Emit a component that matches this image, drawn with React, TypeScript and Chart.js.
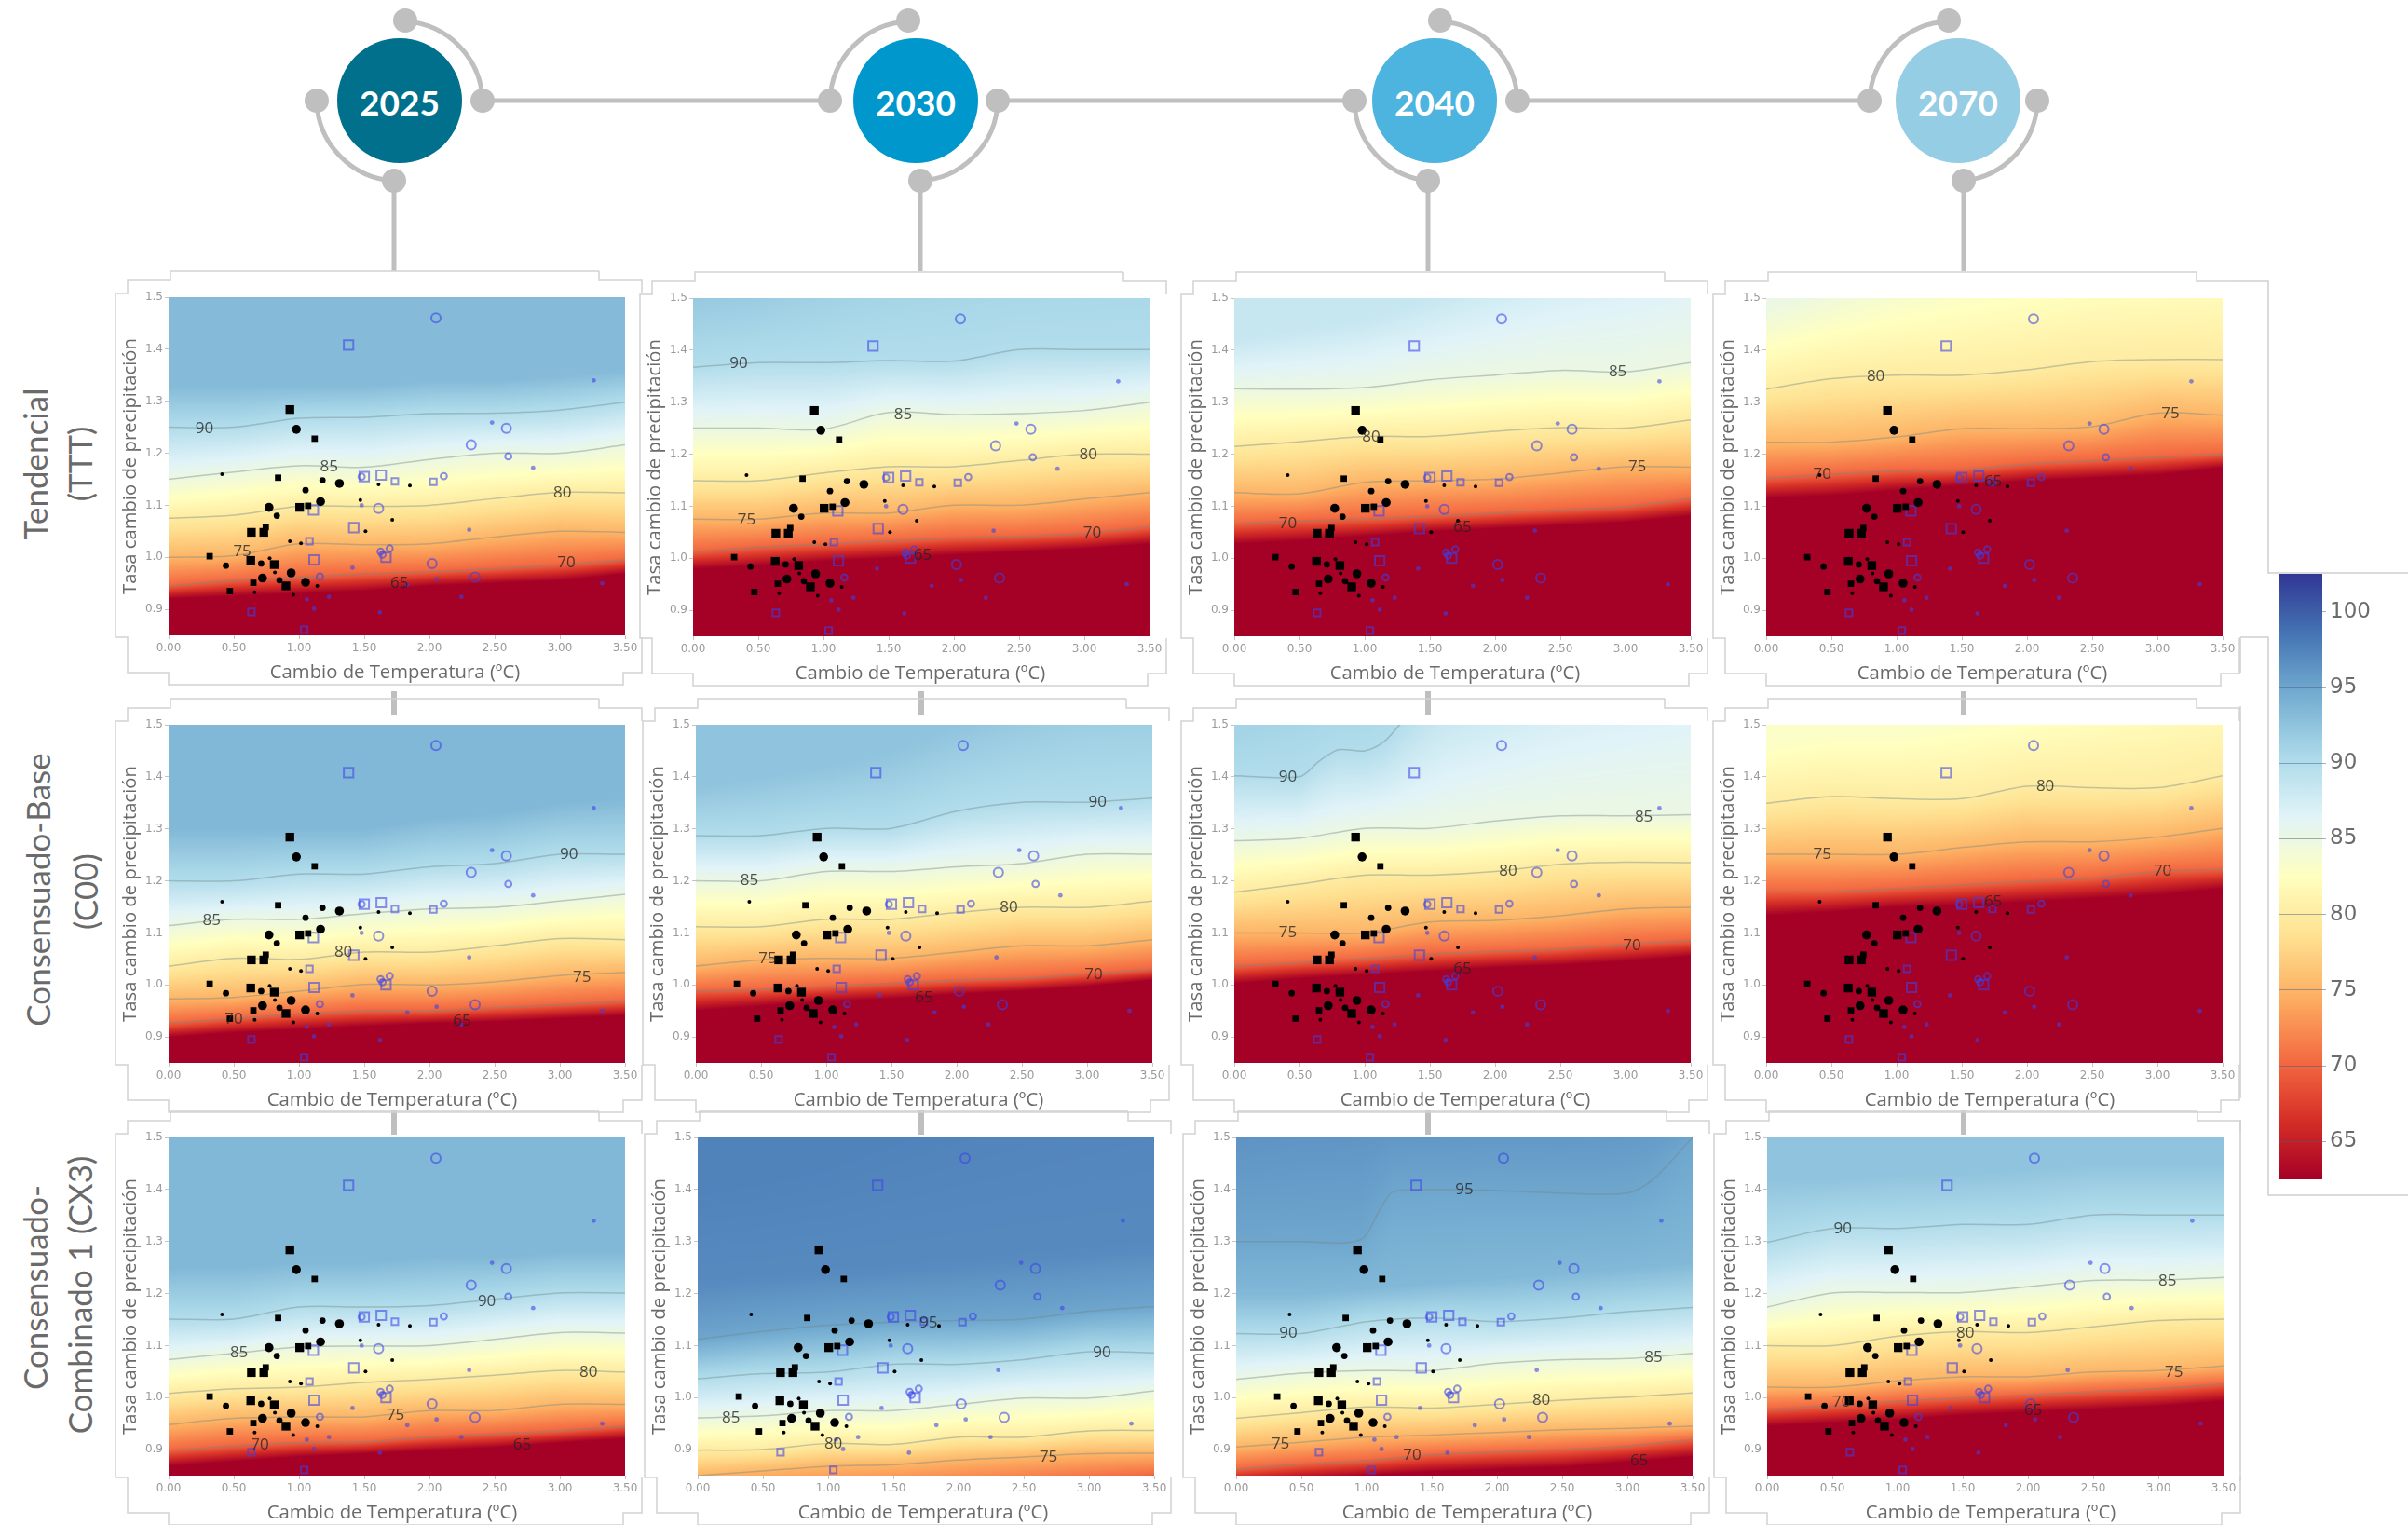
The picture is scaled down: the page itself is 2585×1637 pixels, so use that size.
import React, { useEffect, useRef } from "react";
import { Chart, registerables } from "chart.js";

Chart.register(...registerables);

// ---------- tick labels / axes ----------
const xTicks = [0, 0.5, 1, 1.5, 2, 2.5, 3, 3.5];
const yTicks = [0.9, 1.0, 1.1, 1.2, 1.3, 1.4, 1.5];
const barTicks = [65, 70, 75, 80, 85, 90, 95, 100];
const xTitle = "Cambio de Temperatura (ºC)";
const yTitle = "Tasa cambio de precipitación";
const years = ["2025", "2030", "2040", "2070"];
const yearColors = ["#00708c", "#0098cc", "#4cb4de", "#95cde4"];

// ---------- colour scale ----------
const colorLevels = [62.5, 66.5, 70.5, 74.5, 78.5, 82.5, 86.5, 90.5, 94.5, 98.5, 102.5];
const colorHex = ["#a50026", "#d73027", "#f46d43", "#fdae61", "#fee090", "#ffffbf", "#e0f3f8", "#abd9e9", "#74add1", "#4575b4", "#313695"];

// ---------- observations (same in every panel) ----------
const blackBigSquares = [[.93,1.284],[1.005,1.096],[.635,1.048],[.73,1.048],[.63,.994],[.81,.986],[.9,.945]];
const blackMedSquares = [[1.12,1.228],[.84,1.153],[1.07,1.099],[.745,1.058],[.315,1.002],[.65,.951],[.47,.935]];
const blackBigCircles = [[.98,1.246],[1.31,1.142],[.77,1.096],[1.165,1.107],[.94,.97],[.72,.96],[1.05,.952]];
const blackMedCircles = [[1.18,1.148],[1.05,1.129],[.83,1.08],[.44,.984],[.71,.988],[.85,.956]];
const blackSmallDots = [[.41,1.16],[1.61,1.14],[1.85,1.138],[1.47,1.11],[1.715,1.072],[1.51,1.05],[.93,1.031],[1.015,1.027],[.775,.998],[.815,.971],[1.14,.945],[.66,.933],[.956,.928]];
const blueBigSquares = [[1.38,1.408],[1.63,1.158],[1.5,1.155],[1.11,1.091],[1.42,1.057],[1.667,1.0],[1.115,.995]];
const blueMedSquares = [[2.03,1.145],[1.735,1.146],[1.08,1.031],[.635,.895],[1.04,.861]];
const blueBigCircles = [[2.05,1.46],[2.59,1.248],[2.32,1.216],[1.61,1.094],[2.02,.988],[2.35,.962]];
const blueMedCircles = [[2.605,1.194],[2.11,1.156],[1.48,1.155],[1.695,1.017],[1.625,1.011],[1.64,1.005],[1.16,.963]];
const blueSmallDots = [[3.26,1.34],[2.48,1.259],[2.795,1.172],[1.48,1.1],[2.305,1.053],[1.41,.98],[2.055,.958],[3.325,.95],[1.83,.947],[2.245,.924],[1.23,.924],[1.06,.919],[1.115,.901],[1.62,.894]];

// ---------- contours: [level, y at each of xTicks (or [x,y] pairs)] ----------
const TTT2025 = [
  [65,[.92,.925,.93,.935,.945,.95,.955,.968]],
  [70,[.945,.955,.962,.968,.972,.978,.985,.995]],
  [75,[1.0,1.003,1.026,1.024,1.026,1.039,1.05,1.048]],
  [80,[1.075,1.081,1.098,1.098,1.1,1.113,1.125,1.124]],
  [85,[1.15,1.164,1.176,1.173,1.188,1.2,1.2,1.216]],
  [90,[1.25,1.25,1.267,1.269,1.276,1.277,1.283,1.298]],
];
const TTT2030 = [
  [65,[.979,.985,.994,1.0,1.006,1.012,1.018,1.027]],
  [70,[1.012,1.021,1.027,1.033,1.039,1.042,1.048,1.06]],
  [75,[1.075,1.075,1.087,1.087,1.102,1.102,1.114,1.126]],
  [80,[1.149,1.149,1.164,1.176,1.176,1.188,1.2,1.2]],
  [85,[1.25,1.25,1.248,1.28,1.276,1.278,1.284,1.3]],
  [90,[1.367,1.376,1.376,1.38,1.379,1.401,1.401,1.401]],
];
const TTT2040 = [
  [65,[1.027,1.033,1.042,1.051,1.057,1.063,1.069,1.081]],
  [70,[1.066,1.072,1.075,1.081,1.087,1.093,1.099,1.114]],
  [75,[1.126,1.124,1.146,1.149,1.152,1.164,1.176,1.175]],
  [80,[1.215,1.224,1.234,1.234,1.244,1.251,1.25,1.266]],
  [85,[1.326,1.325,1.328,1.343,1.352,1.361,1.358,1.376]],
];
const TTT2070 = [
  [65,[1.115,1.12,1.13,1.139,1.148,1.154,1.16,1.174]],
  [70,[1.154,1.161,1.168,1.17,1.181,1.187,1.194,1.2]],
  [75,[1.223,1.223,1.233,1.249,1.249,1.253,1.279,1.275]],
  [80,[1.325,1.345,1.352,1.352,1.362,1.378,1.382,1.382]],
];
const C002025 = [
  [65,[.899,.908,.914,.92,.926,.929,.935,.941]],
  [70,[.926,.935,.944,.95,.95,.956,.962,.968]],
  [75,[.973,.976,.988,1.001,1.0,1.006,1.018,1.024]],
  [80,[1.036,1.051,1.049,1.063,1.063,1.075,1.089,1.087]],
  [85,[1.114,1.126,1.126,1.137,1.146,1.149,1.161,1.174]],
  [90,[1.2,1.2,1.213,1.213,1.227,1.233,1.251,1.251]],
];
const C002030 = [
  [65,[.95,.959,.968,.973,.982,.988,.997,1.009]],
  [70,[.988,.991,.997,1.003,1.009,1.013,1.021,1.03]],
  [75,[1.036,1.048,1.051,1.051,1.063,1.075,1.075,1.087]],
  [80,[1.112,1.112,1.126,1.126,1.139,1.149,1.149,1.161]],
  [85,[1.2,1.2,1.218,1.218,1.227,1.233,1.251,1.251]],
  [90,[1.287,1.287,1.301,1.301,1.334,1.351,1.351,1.359]],
];
const C002040 = [
  [65,[1.002,1.012,1.019,1.026,1.033,1.038,1.045,1.055]],
  [70,[1.036,1.043,1.05,1.059,1.064,1.069,1.078,1.085]],
  [75,[1.1,1.1,1.1,1.121,1.124,1.133,1.146,1.149]],
  [80,[1.178,1.194,1.211,1.211,1.218,1.232,1.236,1.235]],
  [85,[1.277,1.282,1.301,1.301,1.315,1.325,1.325,1.327]],
  [90,[[0,1.402],[.5,1.4],[.65,1.43],[.8,1.452],[1,1.45],[1.15,1.468],[1.3,1.51],[1.6,1.6],[3.5,1.9]]],
];
const C002070 = [
  [65,[1.133,1.14,1.149,1.153,1.159,1.166,1.172,1.185]],
  [70,[1.179,1.179,1.185,1.192,1.199,1.205,1.218,1.222]],
  [75,[1.251,1.251,1.251,1.264,1.275,1.275,1.284,1.301]],
  [80,[1.349,1.362,1.358,1.358,1.382,1.379,1.379,1.402]],
];
const CX32025 = [
  [65,[.868,.877,.886,.892,.898,.904,.913,.921]],
  [70,[.898,.907,.913,.915,.924,.93,.936,.945]],
  [75,[.948,.96,.963,.963,.975,.975,.987,.987]],
  [80,[1.008,1.017,1.02,1.029,1.035,1.043,1.052,1.049]],
  [85,[1.073,1.085,1.097,1.099,1.1,1.112,1.125,1.124]],
  [90,[1.151,1.151,1.174,1.174,1.177,1.189,1.201,1.201]],
];
const CX32030 = [
  [65,[.7,.71,.72,.73,.74,.75,.76,.78]],
  [70,[.78,.79,.8,.81,.82,.83,.84,.85]],
  [75,[.85,.859,.868,.871,.88,.886,.892,.893]],
  [80,[.899,.9,.912,.91,.924,.924,.936,.937]],
  [85,[.961,.965,.975,.975,.987,.999,.999,1.013]],
  [90,[1.036,1.046,1.049,1.064,1.064,1.073,1.088,1.086]],
  [95,[1.112,1.127,1.139,1.145,1.148,1.151,1.166,1.175]],
];
const CX32040 = [
  [65,[.833,.842,.85,.857,.862,.866,.876,.886]],
  [70,[.862,.872,.879,.89,.895,.9,.907,.919]],
  [75,[.905,.914,.924,.928,.933,.938,.941,.945]],
  [80,[.96,.971,.982,.98,.987,.995,1.001,1.009]],
  [85,[1.035,1.047,1.052,1.052,1.066,1.073,1.075,1.085]],
  [90,[1.123,1.123,1.146,1.153,1.146,1.153,1.165,1.173]],
  [95,[[0,1.3],[.5,1.3],[.95,1.303],[1.1,1.36],[1.2,1.395],[1.5,1.4],[2,1.398],[2.5,1.393],[3,1.393],[3.2,1.42],[3.5,1.5]]],
];
const CX32070 = [
  [65,[.945,.951,.957,.966,.972,.977,.983,.993]],
  [70,[.978,.984,.993,.999,1.005,1.011,1.017,1.026]],
  [75,[1.02,1.02,1.032,1.04,1.04,1.049,1.052,1.061]],
  [80,[1.1,1.1,1.118,1.127,1.125,1.136,1.148,1.151]],
  [85,[1.174,1.201,1.202,1.202,1.213,1.225,1.226,1.231]],
  [90,[1.298,1.325,1.325,1.333,1.333,1.351,1.351,1.351]],
];

// ---------- upper plateau of the colour field, no contour drawn ----------
const shadeTTT2025 = [[93.3,[1.33,1.33,1.33,1.33,1.34,1.34,1.35,1.36]]];
const shadeTTT2030 = [[92,[1.5,1.52,1.58,1.65,1.7,1.72,1.75,1.78]]];
const shadeTTT2040 = [[88.5,[1.42,1.44,1.46,1.5,1.55,1.6,1.65,1.7]]];
const shadeTTT2070 = [[85,[1.48,1.52,1.56,1.6,1.63,1.66,1.68,1.7]]];
const shadeC002025 = [[93.5,[1.3,1.3,1.3,1.3,1.32,1.33,1.35,1.36]]];
const shadeC002030 = [[92.5,[1.38,1.4,1.42,1.45,1.5,1.55,1.6,1.6]]];
const shadeC002040 = [[91,[1.48,1.52,1.56,1.62,1.68,1.75,1.8,1.9]]];
const shadeC002070 = [[83,[1.46,1.48,1.48,1.5,1.52,1.55,1.58,1.62]]];
const shadeCX32025 = [[93.5,[1.25,1.25,1.26,1.26,1.27,1.27,1.28,1.28]]];
const shadeCX32030 = [[97,[1.22,1.23,1.24,1.25,1.26,1.27,1.28,1.29]],[97.5,[1.4,1.42,1.45,1.5,1.55,1.6,1.65,1.7]]];
const shadeCX32040 = [[93.5,[1.2,1.2,1.21,1.22,1.23,1.24,1.25,1.26]],[96.5,[1.52,1.54,1.55,1.55,1.56,1.56,1.58,1.6]]];
const shadeCX32070 = [[92.5,[1.42,1.42,1.43,1.43,1.44,1.45,1.45,1.45]]];

// ---------- contour labels: [text, x, y] ----------
const labelsTTT2025 = [["90",.275,1.248],["85",1.23,1.173],["80",3.02,1.124],["75",.565,1.01],["70",3.05,.99],["65",1.77,.95]];
const labelsTTT2030 = [["90",.35,1.374],["85",1.61,1.276],["80",3.03,1.198],["75",.41,1.074],["70",3.06,1.048],["65",1.76,1.006]];
const labelsTTT2040 = [["85",2.94,1.359],["80",1.05,1.233],["75",3.09,1.175],["70",.41,1.066],["65",1.75,1.059]];
const labelsTTT2070 = [["80",.84,1.35],["75",3.1,1.277],["70",.43,1.161],["65",1.74,1.147]];
const labelsC002025 = [["90",3.07,1.251],["85",.33,1.124],["80",1.34,1.062],["75",3.17,1.015],["70",.5,.933],["65",2.25,.93]];
const labelsC002030 = [["90",3.08,1.351],["85",.41,1.2],["80",2.4,1.148],["75",.55,1.05],["70",3.05,1.019],["65",1.75,.975]];
const labelsC002040 = [["90",.41,1.399],["85",3.14,1.322],["80",2.1,1.218],["75",.41,1.1],["70",3.05,1.075],["65",1.75,1.031]];
const labelsC002070 = [["80",2.14,1.382],["75",.43,1.251],["70",3.04,1.218],["65",1.74,1.159]];
const labelsCX32025 = [["90",2.44,1.185],["85",.54,1.086],["80",3.22,1.049],["75",1.74,.967],["70",.7,.908],["65",2.71,.908]];
const labelsCX32030 = [["95",1.77,1.144],["90",3.1,1.086],["85",.255,.961],["80",1.04,.911],["75",2.69,.886]];
const labelsCX32040 = [["95",1.75,1.4],["90",.4,1.123],["85",3.2,1.077],["80",2.34,.995],["75",.34,.91],["70",1.35,.89],["65",3.09,.879]];
const labelsCX32070 = [["90",.58,1.325],["85",3.07,1.224],["80",1.52,1.124],["75",3.12,1.049],["70",.57,.992],["65",2.04,.975]];

// ---------- layout table ----------
const PAD_L = 60, PAD_T = 32, PAD_R = 28, PAD_B = 60, PLOT_W = 490, PLOT_H = 363;
const panels = [
  { left: 181, top: 319, titleDx: -2, contours: TTT2025, shade: shadeTTT2025, labels: labelsTTT2025 },
  { left: 744, top: 320, titleDx: -1, contours: TTT2030, shade: shadeTTT2030, labels: labelsTTT2030 },
  { left: 1325, top: 320, titleDx: -8, contours: TTT2040, shade: shadeTTT2040, labels: labelsTTT2040 },
  { left: 1896, top: 320, titleDx: -13, openCorner: true, contours: TTT2070, shade: shadeTTT2070, labels: labelsTTT2070 },
  { left: 181, top: 778, titleDx: -5, contours: C002025, shade: shadeC002025, labels: labelsC002025 },
  { left: 747, top: 778, titleDx: -6, contours: C002030, shade: shadeC002030, labels: labelsC002030 },
  { left: 1325, top: 778, titleDx: 3, contours: C002040, shade: shadeC002040, labels: labelsC002040 },
  { left: 1896, top: 778, titleDx: -5, contours: C002070, shade: shadeC002070, labels: labelsC002070 },
  { left: 181, top: 1221, titleDx: -5, contours: CX32025, shade: shadeCX32025, labels: labelsCX32025 },
  { left: 749, top: 1221, titleDx: -3, contours: CX32030, shade: shadeCX32030, labels: labelsCX32030 },
  { left: 1327, top: 1221, titleDx: 3, contours: CX32040, shade: shadeCX32040, labels: labelsCX32040 },
  { left: 1897, top: 1221, titleDx: -5, contours: CX32070, shade: shadeCX32070, labels: labelsCX32070 },
];

// ---------- helpers ----------
const rgbStops = colorHex.map((h) => [parseInt(h.slice(1, 3), 16), parseInt(h.slice(3, 5), 16), parseInt(h.slice(5, 7), 16)]);

function colorFor(v: number) {
  const n = colorLevels.length;
  if (v <= colorLevels[0]) return rgbStops[0];
  if (v >= colorLevels[n - 1]) return rgbStops[n - 1];
  let i = 0;
  while (v > colorLevels[i + 1]) i++;
  const t = (v - colorLevels[i]) / (colorLevels[i + 1] - colorLevels[i]);
  return [0, 1, 2].map((k) => rgbStops[i][k] + (rgbStops[i + 1][k] - rgbStops[i][k]) * t);
}

// the field saturates to the darkest colour at level 65
function fieldColor(v: number) {
  const u = v <= 70.5 ? 62.5 + ((Math.max(v, 65) - 65) / 5.5) * 8 : v;
  return colorFor(u);
}

function toPairs(line: any[]) {
  return Array.isArray(line[0]) ? line : line.map((y: number, i: number) => [xTicks[i], y]);
}

function lineAt(pairs: number[][], x: number) {
  if (x <= pairs[0][0]) return pairs[0][1];
  for (let i = 0; i < pairs.length - 1; i++) {
    if (x <= pairs[i + 1][0]) {
      const t = (x - pairs[i][0]) / (pairs[i + 1][0] - pairs[i][0]);
      return pairs[i][1] + (pairs[i + 1][1] - pairs[i][1]) * t;
    }
  }
  return pairs[pairs.length - 1][1];
}

const asPoints = (list: number[][]) => list.map(([x, y]) => ({ x, y }));

const heatPlugin = {
  id: "heat",
  beforeDatasetsDraw(chart: any, _a: any, opts: any) {
    const { ctx, chartArea: a, scales } = chart;
    const w = Math.round(a.right - a.left), h = Math.round(a.bottom - a.top);
    const img = ctx.createImageData(w, h);
    const levels = [...opts.contours, ...opts.shade]
      .map(([lv, line]: any) => [lv, toPairs(line)])
      .sort((p: any, q: any) => p[0] - q[0]);
    const rowVal: number[] = [];
    for (let r = 0; r < h; r++) rowVal.push(scales.y.getValueForPixel(a.top + r + 0.5));
    for (let c = 0; c < w; c++) {
      const xv = scales.x.getValueForPixel(a.left + c + 0.5);
      const ys = levels.map((l: any) => lineAt(l[1], xv));
      for (let r = 0; r < h; r++) {
        const y = rowVal[r];
        let v = levels[levels.length - 1][0];
        if (y <= ys[0]) v = levels[0][0];
        else {
          for (let i = 0; i < ys.length - 1; i++) {
            if (y < ys[i + 1]) {
              const t = (y - ys[i]) / (ys[i + 1] - ys[i] || 1);
              v = levels[i][0] + (levels[i + 1][0] - levels[i][0]) * t;
              break;
            }
          }
        }
        const col = fieldColor(v);
        const o = (r * w + c) * 4;
        img.data[o] = col[0];
        img.data[o + 1] = col[1];
        img.data[o + 2] = col[2];
        img.data[o + 3] = 255;
      }
    }
    ctx.putImageData(img, a.left, a.top);
  },
  afterDatasetsDraw(chart: any, _a: any, opts: any) {
    const { ctx, scales, chartArea: c } = chart;
    ctx.save();
    ctx.font = "17px 'Open Sans'";
    ctx.textAlign = "center";
    ctx.textBaseline = "middle";
    ctx.fillStyle = "rgba(35,35,35,0.78)";
    for (const [t, x, y] of opts.labels) {
      ctx.fillText(t, scales.x.getPixelForValue(x), scales.y.getPixelForValue(y));
    }
    ctx.font = "20.3px 'Open Sans'";
    ctx.fillStyle = "#6a6a6a";
    ctx.fillText(xTitle, (c.left + c.right) / 2 + opts.titleDx, c.bottom + 40);
    ctx.restore();
  },
  beforeDraw(chart: any, _a: any, opts: any) {
    const { ctx, chartArea: c } = chart;
    const l = c.left, r = c.right, t = c.top, b = c.bottom;
    ctx.save();
    ctx.strokeStyle = "#d2d2d2";
    ctx.lineWidth = 1.5;
    ctx.beginPath();
    ctx.moveTo(r - 28, t - 28);
    ctx.lineTo(l + 2, t - 28);
    ctx.lineTo(l + 2, t - 18);
    ctx.lineTo(l - 44, t - 18);
    ctx.lineTo(l - 44, t - 4);
    ctx.lineTo(l - 57, t - 4);
    ctx.lineTo(l - 57, b + 2);
    ctx.lineTo(l - 44, b + 2);
    ctx.lineTo(l - 44, b + 40);
    ctx.lineTo(l, b + 40);
    ctx.lineTo(l, b + 53);
    ctx.lineTo(r - 2, b + 53);
    ctx.lineTo(r - 2, b + 40);
    ctx.lineTo(r + 18, b + 40);
    ctx.lineTo(r + 18, b + 2);
    ctx.moveTo(r - 28, t - 28);
    ctx.lineTo(r - 28, t - 18);
    ctx.lineTo(r + 18, t - 18);
    if (!opts.openCorner) ctx.lineTo(r + 18, t - 4);
    ctx.stroke();
    ctx.restore();
  },
};

const BLUE = "rgba(60,65,232,0.58)";

function makeDatasets(p: any) {
  const lines = p.contours
    .filter(([lv]: any) => lv > 65)
    .map(([lv, line]: any) => ({
      label: String(lv),
      data: asPoints(toPairs(line)),
      showLine: true,
      borderColor: "rgba(115,135,135,0.42)",
      borderWidth: 1.5,
      tension: 0.3,
      pointRadius: 0,
      order: 10,
    }));
  const solid = (data: number[][], pointStyle: string, pointRadius: number) => ({
    data: asPoints(data), pointStyle, pointRadius, showLine: false,
    backgroundColor: "#000", borderColor: "#000", borderWidth: 0, order: 1,
  });
  const ring = (data: number[][], pointStyle: string, pointRadius: number) => ({
    data: asPoints(data), pointStyle, pointRadius, showLine: false,
    backgroundColor: "rgba(0,0,0,0)", borderColor: BLUE, borderWidth: 2, order: 2,
  });
  return [
    ...lines,
    solid(blackBigSquares, "rect", 6.6),
    solid(blackMedSquares, "rect", 4.8),
    solid(blackBigCircles, "circle", 4.8),
    solid(blackMedCircles, "circle", 3.4),
    solid(blackSmallDots, "circle", 2),
    ring(blueBigSquares, "rect", 7.2),
    ring(blueMedSquares, "rect", 5),
    ring(blueBigCircles, "circle", 5),
    ring(blueMedCircles, "circle", 3.4),
    { data: asPoints(blueSmallDots), pointStyle: "circle", pointRadius: 2.4, showLine: false, backgroundColor: BLUE, borderWidth: 0, order: 2 },
  ];
}

function Panel({ p }: { p: any }) {
  const ref = useRef<HTMLCanvasElement>(null);
  useEffect(() => {
    const chart = new Chart(ref.current as any, {
      type: "scatter",
      data: { datasets: makeDatasets(p) as any },
      plugins: [heatPlugin],
      options: {
        animation: false,
        responsive: false,
        devicePixelRatio: 1,
        layout: { padding: { left: 0, top: PAD_T, right: PAD_R, bottom: 0 } },
        plugins: {
          legend: { display: false },
          tooltip: { enabled: false },
          heat: { contours: p.contours, shade: p.shade, labels: p.labels, titleDx: p.titleDx, openCorner: !!p.openCorner },
        },
        scales: {
          x: {
            type: "linear", min: 0, max: 3.5,
            afterFit: (s: any) => { s.height = PAD_B; },
            afterBuildTicks: (s: any) => { s.ticks = xTicks.map((value) => ({ value })); },
            grid: { drawOnChartArea: false, drawTicks: true, tickLength: 4, color: "#c4c4c4" },
            border: { display: false },
            ticks: { padding: 3, maxRotation: 0, autoSkip: false, color: "#9a9a9a", font: { family: "'DejaVu Sans'", size: 12 }, callback: (v: any) => Number(v).toFixed(2) },
          },
          y: {
            type: "linear", min: 0.85, max: 1.5,
            afterFit: (s: any) => { s.width = PAD_L; },
            afterBuildTicks: (s: any) => { s.ticks = yTicks.map((value) => ({ value })); },
            grid: { drawOnChartArea: false, drawTicks: true, tickLength: 4, color: "#c4c4c4" },
            border: { display: false },
            ticks: { padding: 2, autoSkip: false, color: "#9a9a9a", font: { family: "'DejaVu Sans'", size: 12 }, callback: (v: any) => Number(v).toFixed(1) },
            title: { display: true, text: yTitle, color: "#6a6a6a", font: { family: "'Open Sans'", size: 20.3 }, padding: { top: 7, bottom: 0 } },
          },
        },
      } as any,
    });
    return () => chart.destroy();
  }, []);
  const w = PAD_L + PLOT_W + PAD_R, h = PAD_T + PLOT_H + PAD_B;
  return (
    <canvas ref={ref} width={w} height={h}
      style={{ position: "absolute", left: p.left - PAD_L, top: p.top - PAD_T, width: w, height: h, filter: "blur(0.5px)" }} />
  );
}

function ColorBar() {
  const ref = useRef<HTMLCanvasElement>(null);
  useEffect(() => {
    const chart = new Chart(ref.current as any, {
      type: "bar",
      data: {
        labels: [""],
        datasets: [{
          data: [[colorLevels[0], colorLevels[colorLevels.length - 1]]],
          categoryPercentage: 1,
          barPercentage: 1,
          backgroundColor: (c: any) => {
            const { chartArea, ctx } = c.chart;
            if (!chartArea) return "#888";
            const g = ctx.createLinearGradient(0, chartArea.bottom, 0, chartArea.top);
            const lo = colorLevels[0], hi = colorLevels[colorLevels.length - 1];
            colorLevels.forEach((lv, i) => g.addColorStop((lv - lo) / (hi - lo), colorHex[i]));
            return g;
          },
        }] as any,
      },
      options: {
        animation: false,
        responsive: false,
        devicePixelRatio: 1,
        layout: { padding: { left: 7, top: 26, bottom: 24, right: 0 } },
        plugins: { legend: { display: false }, tooltip: { enabled: false } },
        scales: {
          x: { display: false },
          y: {
            position: "right", min: colorLevels[0], max: colorLevels[colorLevels.length - 1],
            afterFit: (s: any) => { s.width = 92; },
            afterBuildTicks: (s: any) => { s.ticks = barTicks.map((value) => ({ value })); },
            grid: { color: "rgba(70,95,135,0.5)", tickLength: 4, z: 1, lineWidth: 1 },
            border: { display: false },
            ticks: { padding: 4, autoSkip: false, color: "#6b6b6b", font: { family: "'DejaVu Sans'", size: 23 } },
          },
        },
      } as any,
    });
    return () => chart.destroy();
  }, []);
  return <canvas ref={ref} width={145} height={700}
    style={{ position: "absolute", left: 2440, top: 590, width: 145, height: 700, filter: "blur(0.4px)" }} />;
}

const GREY = "#bfbfbf";

function Node({ cx, i, top, right, bottom, left, upperRight }: any) {
  const R = 88;
  const arcs = upperRight
    ? [`M ${top} 23 A ${R} ${R} 0 0 1 ${right} 108`, `M ${left} 108 A ${R} ${R} 0 0 0 ${bottom} 194`]
    : [`M ${top} 23 A ${R} ${R} 0 0 0 ${left} 108`, `M ${right} 108 A ${R} ${R} 0 0 1 ${bottom} 194`];
  return (
    <g>
      {arcs.map((d) => <path key={d} d={d} fill="none" stroke={GREY} strokeWidth={5} />)}
      <line x1={bottom} y1={194} x2={bottom} y2={291} stroke={GREY} strokeWidth={5} />
      <circle cx={top} cy={22} r={13} fill={GREY} />
      <circle cx={right} cy={108} r={13} fill={GREY} />
      <circle cx={left} cy={108} r={13} fill={GREY} />
      <circle cx={bottom} cy={194} r={13} fill={GREY} />
      <circle cx={cx} cy={108} r={67} fill={yearColors[i]} />
      <text x={cx} y={109} fill="#fff" textAnchor="middle" dominantBaseline="central"
        style={{ font: "700 37px Lato" }}>{years[i]}</text>
    </g>
  );
}

function RowText({ x, y, t }: any) {
  return (
    <text transform={`rotate(-90 ${x} ${y})`} x={x} y={y} fill="#6a6a6a" textAnchor="middle" dominantBaseline="central"
      style={{ font: "400 35px Lato" }}>{t}</text>
  );
}

function Overlay() {
  const seg = (d: string) => <path key={d} d={d} fill="none" stroke="#cfcfcf" strokeWidth={1.5} />;
  const link = (x: number, y1: number, y2: number) => <line key={`${x}-${y1}`} x1={x} x2={x} y1={y1} y2={y2} stroke={GREY} strokeWidth={6} />;
  return (
    <svg width={2585} height={1637} style={{ position: "absolute", left: 0, top: 0 }}>
      <line x1={518} x2={891} y1={108} y2={108} stroke={GREY} strokeWidth={5} />
      <line x1={1071} x2={1454} y1={108} y2={108} stroke={GREY} strokeWidth={5} />
      <line x1={1629} x2={2007} y1={108} y2={108} stroke={GREY} strokeWidth={5} />
      <Node cx={429} i={0} top={435} right={518} bottom={423} left={340} upperRight />
      <Node cx={983} i={1} top={975} right={1071} bottom={988} left={891} />
      <Node cx={1540} i={2} top={1546} right={1629} bottom={1533} left={1454} upperRight />
      <Node cx={2102} i={3} top={2092} right={2187} bottom={2108} left={2007} />
      {[423, 989, 1533, 2108].map((x) => link(x, 742, 768))}
      {[423, 989, 1533, 2108].map((x) => link(x, 1192, 1218))}
      {seg("M 2404 302 L 2435 302 L 2435 615 L 2585 615")}
      {seg("M 2405 684 L 2435 684 L 2435 1283 L 2585 1283")}
      {seg("M 2405 684 L 2405 722")}
      {seg("M 2405 758 L 2405 1179")}
      {seg("M 2405 1202 L 2405 1590")}
      <RowText x={37} y={498} t="Tendencial" />
      <RowText x={85} y={498} t="(TTT)" />
      <RowText x={40} y={955} t="Consensuado-Base" />
      <RowText x={91} y={957} t="(C00)" />
      <RowText x={37} y={1382} t="Consensuado-" />
      <RowText x={85} y={1390} t="Combinado 1 (CX3)" />
    </svg>
  );
}

export default function App() {
  return (
    <div style={{ position: "absolute", left: 0, top: 0, width: 2585, height: 1637, overflow: "hidden", background: "#fff" }}>
      <Overlay />
      {panels.map((p, i) => <Panel key={i} p={p} />)}
      <ColorBar />
    </div>
  );
}
